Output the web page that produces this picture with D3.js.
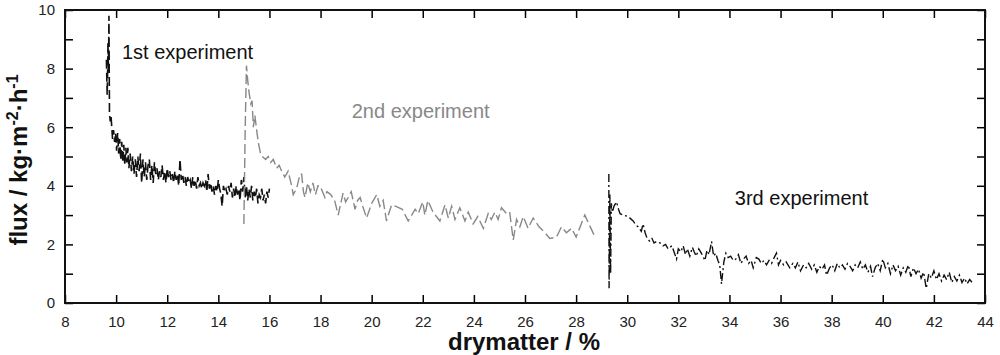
<!DOCTYPE html>
<html>
<head>
<meta charset="utf-8" />
<script src="https://cdn.jsdelivr.net/npm/d3@7"></script>
<style>
body { margin: 0; background: #fff; }
svg { display: block; }
.tick text { font-family: Arial, "Liberation Sans", sans-serif; font-size: 15px; fill: #222; }
.axis path { display: none; }
.axis line { stroke: #000; stroke-width: 1.5px; }
.title { font-family: Arial, "Liberation Sans", sans-serif; font-weight: bold; font-size: 24px; fill: #111; }
.note { font-family: Arial, "Liberation Sans", sans-serif; font-size: 20px; }
</style>
</head>
<body>
<script>
// tick values
var xTicks = [8, 10, 12, 14, 16, 18, 20, 22, 24, 26, 28, 30, 32, 34, 36, 38, 40, 42, 44];
var yTicks = [0, 1, 2, 3, 4, 5, 6, 7, 8, 9, 10];
var yLabels = [0, 2, 4, 6, 8, 10];

// [drymatter %, flux]
var exp1 = [[9.62,8.3],[9.64,7.5],[9.65,7.1],[9.67,8.0],[9.68,8.9],[9.70,7.9],[9.72,9.8],[9.74,6.5],[9.77,6.2],[9.80,6.4],
  [9.83,6.0],[9.86,5.6],[9.90,5.9],[9.94,5.5],[9.98,5.8],[10.02,5.2],[10.06,5.8],[10.10,5.1],[10.14,5.6],[10.18,4.9],
  [10.22,5.5],[10.26,4.8],[10.30,5.4],[10.34,4.7],[10.38,5.3],[10.42,4.8],[10.46,5.3],[10.50,4.6],[10.55,5.1],[10.60,4.5],
  [10.65,5.0],[10.70,4.4],[10.75,4.9],[10.80,4.3],[10.85,5.0],[10.90,4.5],[10.95,5.1],[11.00,4.1],[11.05,4.9],[11.10,4.3],
  [11.15,4.8],[11.20,4.2],[11.25,4.7],[11.30,4.9],[11.35,4.2],[11.40,4.7],[11.45,4.1],[11.50,4.8],[11.55,4.4],[11.60,4.6],
  [11.65,4.2],[11.70,4.5],[11.75,4.3],[11.80,4.7],[11.85,4.2],[11.90,4.5],[11.95,4.1],[12.00,4.6],[12.05,4.3],[12.10,4.5],
  [12.15,4.2],[12.20,4.4],[12.25,4.1],[12.30,4.5],[12.35,4.2],[12.40,4.4],[12.45,4.0],[12.50,4.9],[12.55,4.2],[12.60,4.4],
  [12.65,4.1],[12.70,4.3],[12.75,4.0],[12.80,4.3],[12.85,4.1],[12.90,4.2],[12.95,3.9],[13.00,4.3],[13.05,4.0],[13.10,4.2],
  [13.15,3.9],[13.20,4.3],[13.25,4.0],[13.30,4.1],[13.35,3.9],[13.40,4.1],[13.45,4.0],[13.50,4.2],[13.55,3.8],[13.60,4.4],
  [13.65,3.9],[13.70,4.1],[13.75,3.8],[13.80,4.0],[13.85,3.7],[13.90,4.0],[13.95,3.8],[14.00,4.2],[14.05,3.9],[14.10,3.7],
  [14.15,3.3],[14.20,4.0],[14.25,3.8],[14.30,3.9],[14.35,3.7],[14.40,4.0],[14.45,3.8],[14.50,4.1],[14.55,3.6],[14.60,3.9],
  [14.65,3.6],[14.70,4.0],[14.75,3.7],[14.80,3.9],[14.85,3.5],[14.90,4.2],[14.95,3.8],[15.00,4.3],[15.05,3.6],[15.10,4.0],
  [15.15,3.5],[15.20,3.9],[15.25,3.6],[15.30,4.0],[15.35,3.5],[15.40,3.8],[15.45,3.6],[15.50,3.9],[15.55,3.4],[15.60,3.7],
  [15.65,3.6],[15.70,3.9],[15.75,3.5],[15.80,3.7],[15.85,3.4],[15.90,3.8],[15.95,3.6],[16.00,3.9]];

var exp2 = [[15.00,2.7],[15.05,5.9],[15.10,8.1],[15.15,7.6],[15.20,7.2],[15.27,6.8],[15.32,6.9],[15.37,6.0],[15.43,6.4],[15.50,5.9],
  [15.56,5.5],[15.65,5.1],[15.72,5.0],[15.85,4.9],[15.95,5.0],[16.05,4.8],[16.15,4.9],[16.28,4.6],[16.38,4.7],[16.48,4.5],
  [16.60,4.3],[16.73,4.5],[16.87,4.0],[16.93,3.7],[17.06,3.9],[17.20,4.4],[17.26,4.4],[17.33,3.8],[17.39,3.6],[17.50,4.1],
  [17.60,3.8],[17.70,4.1],[17.80,3.7],[17.90,4.0],[17.98,4.0],[18.08,3.8],[18.17,3.6],[18.25,3.8],[18.40,3.7],[18.55,3.5],
  [18.69,3.0],[18.88,3.75],[18.98,3.45],[19.08,3.6],[19.20,3.8],[19.35,3.2],[19.45,3.5],[19.55,3.6],[19.65,3.3],[19.80,2.9],
  [20.00,3.4],[20.20,3.7],[20.32,3.3],[20.45,3.5],[20.58,2.8],[20.78,3.35],[20.95,3.3],[21.20,3.2],[21.43,2.8],[21.70,3.2],
  [21.82,3.05],[22.00,3.45],[22.08,3.0],[22.20,3.5],[22.40,3.1],[22.67,2.8],[22.87,3.35],[23.00,2.9],[23.13,3.3],[23.26,2.85],
  [23.45,3.25],[23.65,2.8],[23.78,3.1],[23.97,2.7],[24.15,2.95],[24.37,2.55],[24.56,3.05],[24.68,2.85],[24.82,3.1],[24.95,2.85],
  [25.08,3.25],[25.28,3.05],[25.40,3.1],[25.54,2.15],[25.67,2.85],[25.80,2.6],[25.93,2.95],[26.12,2.55],[26.32,2.9],[26.55,2.6],
  [26.78,2.4],[26.97,2.2],[27.23,2.25],[27.43,2.6],[27.62,2.4],[27.82,2.55],[28.00,2.25],[28.34,3.0],[28.74,2.25]];

var exp3 = [[29.28,4.4],[29.29,0.5],[29.32,3.7],[29.35,1.0],[29.38,3.4],[29.42,3.1],[29.48,3.3],[29.58,3.45],[29.66,3.2],[29.72,3.05],
  [29.85,3.0],[30.04,2.95],[30.23,2.8],[30.35,2.65],[30.43,2.6],[30.55,2.45],[30.62,2.7],[30.70,2.4],[30.78,2.2],[30.89,2.1],
  [30.97,2.2],[31.05,2.05],[31.15,2.1],[31.28,2.05],[31.40,1.95],[31.50,2.0],[31.60,1.85],[31.67,1.9],[31.75,1.95],[31.85,1.7],
  [31.93,1.5],[32.00,1.85],[32.10,1.75],[32.19,1.95],[32.28,1.65],[32.35,1.85],[32.45,1.6],[32.55,1.9],[32.62,1.75],[32.70,1.6],
  [32.80,1.85],[32.90,1.7],[33.04,1.45],[33.12,1.8],[33.20,1.65],[33.30,2.1],[33.38,1.6],[33.46,1.7],[33.55,1.45],[33.62,1.3],
  [33.69,0.65],[33.78,1.4],[33.86,1.7],[33.95,1.55],[34.05,1.6],[34.15,1.45],[34.25,1.5],[34.35,1.65],[34.45,1.35],[34.55,1.5],
  [34.65,1.6],[34.75,1.35],[34.85,1.45],[34.93,1.2],[35.05,1.55],[35.15,1.5],[35.25,1.35],[35.35,1.45],[35.45,1.3],[35.55,1.45],
  [35.65,1.35],[35.75,1.55],[35.84,1.7],[35.92,1.3],[36.00,1.45],[36.12,1.3],[36.22,1.4],[36.36,1.2],[36.48,1.35],[36.58,1.2],
  [36.68,1.4],[36.78,1.1],[36.90,1.3],[37.00,1.2],[37.10,1.35],[37.22,1.15],[37.32,1.3],[37.42,1.05],[37.52,1.25],[37.62,1.15],
  [37.72,1.3],[37.80,0.95],[37.92,1.2],[38.02,1.3],[38.12,1.1],[38.22,1.35],[38.32,1.2],[38.42,1.3],[38.52,1.15],[38.62,1.35],
  [38.72,1.25],[38.82,1.1],[38.92,1.3],[39.02,1.2],[39.12,1.4],[39.22,1.15],[39.32,1.3],[39.42,1.05],[39.52,1.25],[39.60,0.9],
  [39.70,1.2],[39.80,1.35],[39.90,1.1],[40.00,1.5],[40.10,1.2],[40.20,1.35],[40.30,1.0],[40.40,1.3],[40.50,1.1],[40.60,1.25],
  [40.70,0.95],[40.80,1.2],[40.90,1.05],[41.00,1.3],[41.10,0.9],[41.20,1.2],[41.30,1.0],[41.40,1.15],[41.50,0.85],[41.60,1.05],
  [41.70,0.5],[41.80,1.0],[41.90,0.85],[42.00,1.1],[42.10,0.8],[42.20,1.0],[42.30,0.75],[42.40,0.95],[42.50,0.8],[42.60,1.05],
  [42.70,0.7],[42.80,0.9],[42.90,0.75],[43.00,0.95],[43.10,0.7],[43.20,0.85],[43.30,0.65],[43.40,0.8],[43.50,0.7]];

var width = 1000, height = 355;
var margin = {top: 10, right: 15, bottom: 52, left: 65};
var w = width - margin.left - margin.right;
var h = height - margin.top - margin.bottom;

var svg = d3.select("body").append("svg")
  .attr("width", width)
  .attr("height", height);
var g = svg.append("g")
  .attr("transform", "translate(" + margin.left + "," + margin.top + ")");

var x = d3.scaleLinear().domain([8, 44]).range([0, w]);
var y = d3.scaleLinear().domain([0, 10]).range([h, 0]);

// axes, ticks pointing inward
g.append("g").attr("class", "axis")
  .attr("transform", "translate(0," + h + ")")
  .call(d3.axisBottom(x).tickValues(xTicks).tickSizeInner(-8).tickSizeOuter(0).tickPadding(13));
g.append("g").attr("class", "axis")
  .call(d3.axisTop(x).tickValues(xTicks).tickSizeInner(-8).tickSizeOuter(0).tickFormat(""));
g.append("g").attr("class", "axis")
  .call(d3.axisLeft(y).tickValues(yTicks).tickSizeInner(-8).tickSizeOuter(0).tickPadding(10)
    .tickFormat(function(d) { return yLabels.indexOf(d) >= 0 ? d : ""; }));
g.append("g").attr("class", "axis")
  .attr("transform", "translate(" + w + ",0)")
  .call(d3.axisRight(y).tickValues(yTicks).tickSizeInner(-8).tickSizeOuter(0).tickFormat(""));

g.append("rect")
  .attr("width", w).attr("height", h)
  .attr("fill", "none").attr("stroke", "#111").attr("stroke-width", 2);

var line = d3.line()
  .x(function(d) { return x(d[0]); })
  .y(function(d) { return y(d[1]); });

g.append("path").datum(exp1)
  .attr("d", line).attr("fill", "none")
  .attr("stroke", "#111").attr("stroke-width", 1.6)
  .attr("stroke-dasharray", "9,4");
g.append("path").datum(exp2)
  .attr("d", line).attr("fill", "none")
  .attr("stroke", "#888").attr("stroke-width", 1.4)
  .attr("stroke-dasharray", "10,4");
g.append("path").datum(exp3)
  .attr("d", line).attr("fill", "none")
  .attr("stroke", "#111").attr("stroke-width", 1.4)
  .attr("stroke-dasharray", "8,3,2,3");

// notes
g.append("text").attr("class", "note").attr("fill", "#111")
  .attr("x", x(10.23)).attr("y", y(8.33)).text("1st experiment");
g.append("text").attr("class", "note").attr("fill", "#888")
  .attr("x", x(19.22)).attr("y", y(6.31)).text("2nd experiment");
g.append("text").attr("class", "note").attr("fill", "#111")
  .attr("x", x(34.21)).attr("y", y(3.34)).text("3rd experiment");

// axis titles
svg.append("text").attr("class", "title")
  .attr("text-anchor", "middle")
  .attr("x", 524).attr("y", 350)
  .text("drymatter / %");

var yt = svg.append("text").attr("class", "title")
  .attr("text-anchor", "middle")
  .attr("transform", "translate(27,160) rotate(-90)");
yt.append("tspan").text("flux / kg·m");
yt.append("tspan").attr("dy", -9).attr("font-size", "16px").text("-2");
yt.append("tspan").attr("dy", 9).text("·h");
yt.append("tspan").attr("dy", -9).attr("font-size", "16px").text("-1");
</script>
</body>
</html>
